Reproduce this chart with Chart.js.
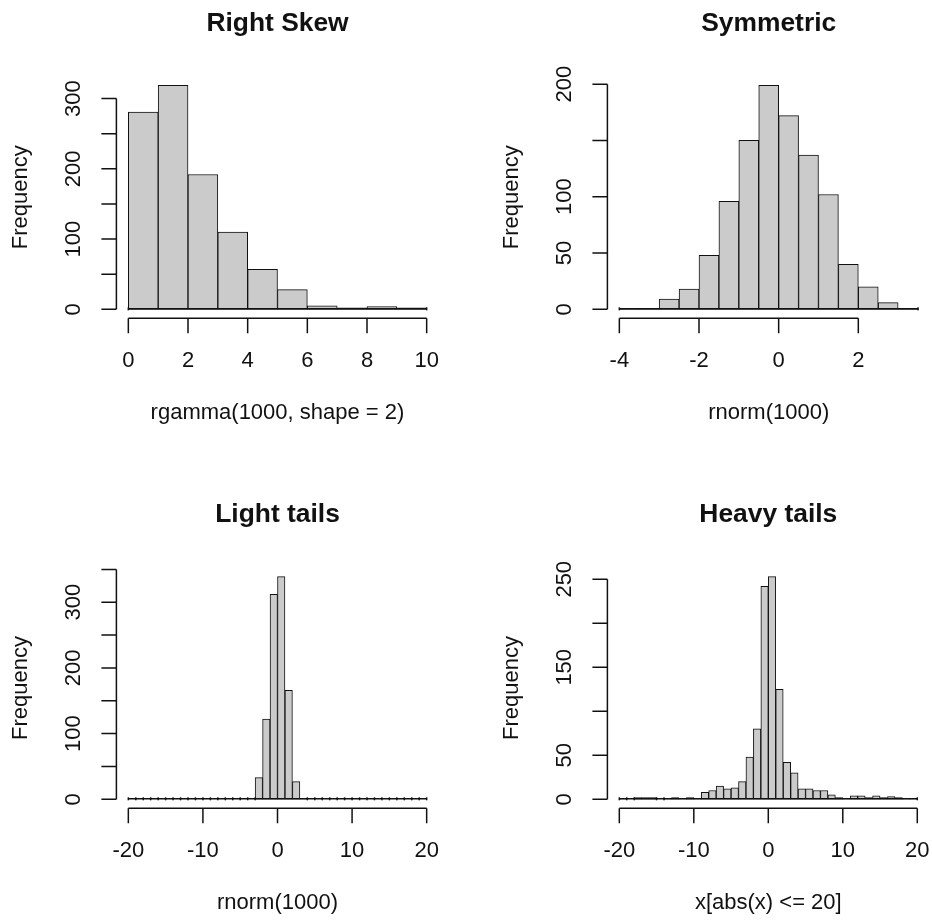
<!DOCTYPE html>
<html>
<head>
<meta charset="utf-8">
<title>Histogram shapes</title>
<script src="https://cdn.jsdelivr.net/npm/chart.js@4.4.1/dist/chart.umd.min.js"></script>
<style>
  html, body { margin: 0; padding: 0; background: #fff; }
  #grid { position: relative; width: 932px; height: 920px; }
  #grid canvas { position: absolute; }
</style>
</head>
<body>
<div id="grid">
  <canvas id="skew" width="466" height="460" style="left:0;top:0"></canvas>
  <canvas id="sym" width="466" height="460" style="left:466px;top:0"></canvas>
  <canvas id="light" width="466" height="460" style="left:0;top:460px"></canvas>
  <canvas id="heavy" width="466" height="460" style="left:466px;top:460px"></canvas>
</div>
<script>
// rgamma(1000, shape = 2)
const skewBreaks = [0, 1, 2, 3, 4, 5, 6, 7, 8, 9, 10];
const skewCounts = [281, 319, 192, 110, 57, 28, 5, 2, 4, 2];
const skewXTicks = [0, 2, 4, 6, 8, 10];
const skewXLabels = ['0', '2', '4', '6', '8', '10'];
const skewYTicks = [0, 50, 100, 150, 200, 250, 300];
const skewYLabels = ['0', '', '100', '', '200', '', '300'];

// rnorm(1000)
const symBreaks = [-4, -3.5, -3, -2.5, -2, -1.5, -1, -0.5, 0, 0.5, 1, 1.5, 2, 2.5, 3, 3.5];
const symCounts = [1, 1, 9, 18, 48, 96, 150, 199, 172, 137, 102, 40, 20, 6, 1];
const symXTicks = [-4, -2, 0, 2];
const symXLabels = ['-4', '-2', '0', '2'];
const symYTicks = [0, 50, 100, 150, 200];
const symYLabels = ['0', '50', '100', '', '200'];

// wide bins shared by the two tail plots
const wideBreaks = [-20, -19, -18, -17, -16, -15, -14, -13, -12, -11, -10, -9, -8, -7, -6, -5, -4, -3, -2, -1,
  0, 1, 2, 3, 4, 5, 6, 7, 8, 9, 10, 11, 12, 13, 14, 15, 16, 17, 18, 19, 20];
const wideXTicks = [-20, -10, 0, 10, 20];
const wideXLabels = ['-20', '-10', '0', '10', '20'];

const lightCounts = [0, 0, 0, 0, 0, 0, 0, 0, 0, 0, 0, 0, 0, 0, 0, 0, 0, 33, 122, 312,
  339, 166, 27, 1, 0, 0, 0, 0, 0, 0, 0, 0, 0, 0, 0, 0, 0, 0, 0, 0];
const lightYTicks = [0, 50, 100, 150, 200, 250, 300, 350];
const lightYLabels = ['0', '', '100', '', '200', '', '300', ''];

const heavyCounts = [1, 0, 2, 2, 2, 0, 1, 2, 1, 2, 1, 8, 10, 15, 12, 13, 20, 48, 80, 242,
  253, 125, 42, 30, 12, 12, 10, 10, 5, 2, 1, 4, 4, 2, 4, 2, 3, 2, 1, 1];
const heavyYTicks = [0, 50, 100, 150, 200, 250];
const heavyYLabels = ['0', '50', '', '150', '', '250'];

const FONT = '"Liberation Sans", Arial, Helvetica, sans-serif';
const INK = '#111';

// base-graphics style frame: detached axes, rotated y labels, titles
function rStyle(h) {
  return {
    id: 'rStyle',
    afterDatasetsDraw(chart) {
      const ctx = chart.ctx, xs = chart.scales.x, ys = chart.scales.y;
      const y0 = ys.getPixelForValue(0);
      ctx.save();
      ctx.strokeStyle = INK;
      ctx.fillStyle = INK;
      ctx.lineWidth = 1.5;
      ctx.beginPath();
      ctx.moveTo(xs.getPixelForValue(h.breaks[0]), y0 - 0.5);
      ctx.lineTo(xs.getPixelForValue(h.breaks[h.breaks.length - 1]), y0 - 0.5);
      ctx.stroke();
      // empty bins still leave their edge stubs
      h.breaks.forEach((b, i) => {
        const left = i > 0 ? h.counts[i - 1] : 0;
        const right = i < h.counts.length ? h.counts[i] : 0;
        if (left === 0 || right === 0) {
          ctx.fillRect(xs.getPixelForValue(b) - 0.75, y0 - 2, 1.5, 3);
        }
      });
      ctx.restore();
    },
    afterDraw(chart) {
      const ctx = chart.ctx, ca = chart.chartArea;
      const xs = chart.scales.x, ys = chart.scales.y;
      ctx.save();
      ctx.strokeStyle = INK;
      ctx.fillStyle = INK;
      ctx.lineWidth = 1.5;
      ctx.textAlign = 'center';
      ctx.textBaseline = 'middle';

      // x axis
      const xa = ca.bottom;
      ctx.beginPath();
      ctx.moveTo(xs.getPixelForValue(h.xTicks[0]), xa);
      ctx.lineTo(xs.getPixelForValue(h.xTicks[h.xTicks.length - 1]), xa);
      h.xTicks.forEach(v => {
        const px = xs.getPixelForValue(v);
        ctx.moveTo(px, xa);
        ctx.lineTo(px, xa + 15);
      });
      ctx.stroke();
      ctx.font = '22px ' + FONT;
      h.xTicks.forEach((v, i) => ctx.fillText(h.xLabels[i], xs.getPixelForValue(v), xa + 43));

      // y axis
      const ya = ca.left;
      ctx.beginPath();
      ctx.moveTo(ya, ys.getPixelForValue(h.yTicks[0]));
      ctx.lineTo(ya, ys.getPixelForValue(h.yTicks[h.yTicks.length - 1]));
      h.yTicks.forEach(v => {
        const py = ys.getPixelForValue(v);
        ctx.moveTo(ya, py);
        ctx.lineTo(ya - 15, py);
      });
      ctx.stroke();
      h.yTicks.forEach((v, i) => {
        if (!h.yLabels[i]) return;
        ctx.save();
        ctx.translate(ya - 42, ys.getPixelForValue(v));
        ctx.rotate(-Math.PI / 2);
        ctx.fillText(h.yLabels[i], 0, 0);
        ctx.restore();
      });

      // axis titles
      const cx = (ca.left + ca.right) / 2, cy = (ca.top + ca.bottom) / 2;
      ctx.fillText(h.xTitle, cx, xa + 95);
      ctx.save();
      ctx.translate(ya - 95, cy);
      ctx.rotate(-Math.PI / 2);
      ctx.fillText(h.yTitle, 0, 0);
      ctx.restore();

      // main title
      ctx.font = 'bold 26.4px ' + FONT;
      ctx.fillText(h.title, cx, ca.top - 53);
      ctx.restore();
    }
  };
}

function histogram(id, h, pad) {
  const points = h.counts.map((c, i) => ({ x: (h.breaks[i] + h.breaks[i + 1]) / 2, y: c }));
  const lo = h.breaks[0], hi = h.breaks[h.breaks.length - 1];
  const top = Math.max(...h.counts);
  return new Chart(document.getElementById(id), {
    type: 'bar',
    data: {
      datasets: [{
        data: points,
        backgroundColor: '#cbcbcb',
        borderColor: INK,
        borderWidth: 1,
        borderSkipped: false,
        barPercentage: 1,
        categoryPercentage: 1
      }]
    },
    options: {
      responsive: false,
      animation: false,
      devicePixelRatio: 1,
      layout: { padding: pad },
      plugins: { legend: { display: false }, tooltip: { enabled: false } },
      scales: {
        x: {
          type: 'linear', display: false, offset: false,
          min: lo - 0.04 * (hi - lo), max: hi + 0.04 * (hi - lo),
          afterBuildTicks: s => { s.ticks = h.xTicks.map(v => ({ value: v })); }
        },
        y: {
          type: 'linear', display: false,
          min: -0.04 * top, max: 1.04 * top
        }
      }
    },
    plugins: [rStyle(h)]
  });
}

histogram('skew', {
  title: 'Right Skew', xTitle: 'rgamma(1000, shape = 2)', yTitle: 'Frequency',
  breaks: skewBreaks, counts: skewCounts,
  xTicks: skewXTicks, xLabels: skewXLabels, yTicks: skewYTicks, yLabels: skewYLabels
}, { left: 116.4, top: 76.3, right: 27.4, bottom: 141.7 });

histogram('sym', {
  title: 'Symmetric', xTitle: 'rnorm(1000)', yTitle: 'Frequency',
  breaks: symBreaks, counts: symCounts,
  xTicks: symXTicks, xLabels: symXLabels, yTicks: symYTicks, yLabels: symYLabels
}, { left: 141.4, top: 76.3, right: 2, bottom: 141.7 });

histogram('light', {
  title: 'Light tails', xTitle: 'rnorm(1000)', yTitle: 'Frequency',
  breaks: wideBreaks, counts: lightCounts,
  xTicks: wideXTicks, xLabels: wideXLabels, yTicks: lightYTicks, yLabels: lightYLabels
}, { left: 116.4, top: 107.7, right: 27.4, bottom: 111.8 });

histogram('heavy', {
  title: 'Heavy tails', xTitle: 'x[abs(x) <= 20]', yTitle: 'Frequency',
  breaks: wideBreaks, counts: heavyCounts,
  xTicks: wideXTicks, xLabels: wideXLabels, yTicks: heavyYTicks, yLabels: heavyYLabels
}, { left: 141.4, top: 107.7, right: 2.8, bottom: 111.8 });
</script>
</body>
</html>
